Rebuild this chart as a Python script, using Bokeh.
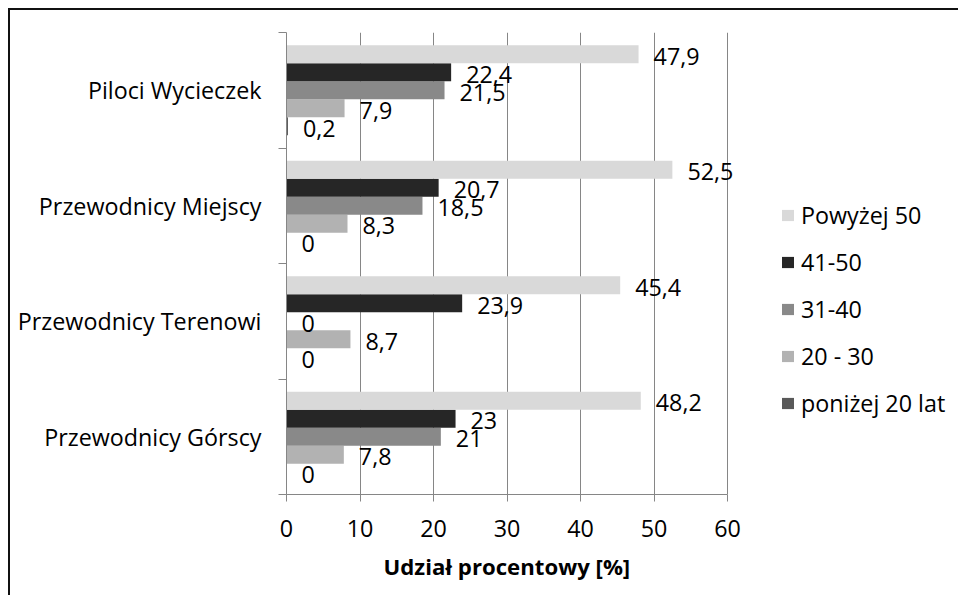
from bokeh.plotting import figure
from bokeh.models import (ColumnDataSource, FixedTicker, Legend, LegendItem,
                          LabelSet, Range1d, Title)
from bokeh.core.properties import value
from bokeh.embed import file_html
from bokeh.resources import INLINE

# Guide groups, listed from the bottom of the chart to the top
categories = ["Przewodnicy Górscy", "Przewodnicy Terenowi",
              "Przewodnicy Miejscy", "Piloci Wycieczek"]

# Age bands (series), drawn bottom-up inside each group
series_names = ["poniżej 20 lat", "20 - 30", "31-40", "41-50", "Powyżej 50"]
ponizej_20 = [0, 0, 0, 0.2]
wiek_20_30 = [7.8, 8.7, 8.3, 7.9]
wiek_31_40 = [21, 0, 18.5, 21.5]
wiek_41_50 = [23, 23.9, 20.7, 22.4]
powyzej_50 = [48.2, 45.4, 52.5, 47.9]

x_ticks = [0, 10, 20, 30, 40, 50, 60]
x_title = "Udział procentowy [%]"

series_values = [ponizej_20, wiek_20_30, wiek_31_40, wiek_41_50, powyzej_50]
colors = ["#595959", "#b2b2b2", "#898989", "#262626", "#d9d9d9"]

FONT = "Open Sans"
FS = "23.3px"
GRID = "#868686"
BAR_H = 0.156

# The axis spans 0..60 over 441 px; the frame runs a little further right
# so value labels past the last gridline are not cut off.
AXIS_PX = 441
EXTRA_PX = 30
x_max = x_ticks[-1]
x_end = x_max * (AXIS_PX + EXTRA_PX) / AXIS_PX

p = figure(frame_width=AXIS_PX + EXTRA_PX, frame_height=462,
           x_range=Range1d(0, x_end), y_range=Range1d(0, len(categories)),
           output_backend="svg", toolbar_location=None,
           min_border_left=276, min_border_right=231 - EXTRA_PX,
           min_border_top=22, min_border_bottom=101,
           background_fill_color="white", border_fill_color="white")
p.outline_line_color = None
p.styles = {"margin-left": "8px", "margin-top": "8px",
            "border-left": "2px solid #111111", "border-top": "2px solid #111111"}

def fmt(v):
    return f"{v:g}".replace(".", ",")

renderers = []
for k, (name, vals) in enumerate(zip(series_names, series_values)):
    ys = [i + 0.5 + (k - 2) * BAR_H for i in range(len(categories))]
    src = ColumnDataSource(dict(y=ys, v=vals, lab=[fmt(v) for v in vals]))
    r = p.hbar(y="y", left=0, right="v", height=BAR_H, source=src,
               fill_color=colors[k], line_color=None)
    renderers.append(r)
    p.add_layout(LabelSet(x="v", y="y", text="lab", source=src,
                          x_offset=15, y_offset=-2,
                          text_align="left", text_baseline="middle",
                          text_font=value(FONT), text_font_size=value(FS),
                          text_color="#000000"))

# x axis
xa = p.xaxis[0]
xa.ticker = FixedTicker(ticks=x_ticks)
xa.bounds = (0, x_max)
xa.axis_line_color = GRID
xa.major_tick_line_color = GRID
xa.major_tick_out = 7
xa.major_tick_in = 0
xa.minor_tick_line_color = None
xa.major_label_text_font = FONT
xa.major_label_text_font_size = FS
xa.major_label_text_color = "#000000"
xa.major_label_standoff = 18

# axis title, centred under the 0..60 span rather than the whole frame
p.add_layout(Title(text=x_title, align="left", offset=97, standoff=18,
                   text_font=FONT, text_font_size="22.2px",
                   text_font_style="bold", text_color="#000000"), "below")

# y axis: names at group centres, tick marks on group boundaries
ya = p.yaxis[0]
ya.ticker = FixedTicker(ticks=[i + 0.5 for i in range(len(categories))],
                        minor_ticks=list(range(len(categories) + 1)))
ya.major_label_overrides = {i + 0.5: c for i, c in enumerate(categories)}
ya.axis_line_color = GRID
ya.major_tick_line_color = None
ya.major_tick_out = 0
ya.major_tick_in = 0
ya.minor_tick_line_color = GRID
ya.minor_tick_out = 8
ya.minor_tick_in = 0
ya.major_label_text_font = FONT
ya.major_label_text_font_size = FS
ya.major_label_text_color = "#000000"
ya.major_label_standoff = 17

p.xgrid.ticker = FixedTicker(ticks=x_ticks)
p.xgrid.grid_line_color = GRID
p.ygrid.grid_line_color = None

legend = Legend(items=[LegendItem(label=series_names[k], renderers=[renderers[k]])
                       for k in reversed(range(len(series_names)))],
                location=(53 - EXTRA_PX, 75), glyph_width=15, glyph_height=14,
                label_standoff=6, spacing=15, padding=0, margin=0,
                border_line_color=None, background_fill_alpha=0,
                label_text_font=FONT, label_text_font_size=FS,
                label_text_color="#000000")
p.add_layout(legend, "right")

open("out.html", "w").write(file_html(p, INLINE))
